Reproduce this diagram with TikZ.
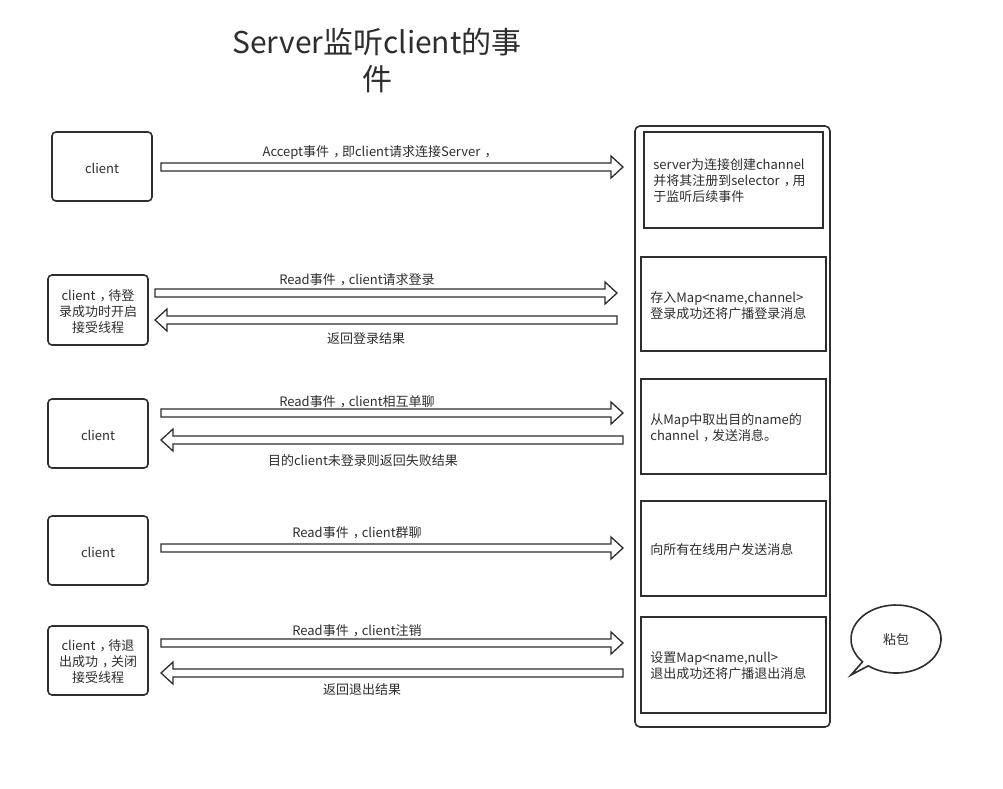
\documentclass[tikz,border=0pt]{standalone}
\usepackage{fontspec}
\setmainfont{Noto Sans CJK SC}
\newcommand\cm{\makebox[1em][l]{\hspace{0.32em}，}}
\usetikzlibrary{calc}
\definecolor{ink}{HTML}{2E2E2E}
\tikzset{
  every node/.style={text=ink},
  txt/.style={font=\fontsize{13}{16}\selectfont, inner sep=0pt},
  clientbox/.style={draw=ink, line width=1.6pt, rounded corners=4pt, minimum width=100pt, minimum height=69pt, inner sep=0pt},
  srvbox/.style={draw=ink, line width=1.6pt, minimum width=185pt, minimum height=95pt, inner sep=0pt},
  blkR/.style={draw=ink, line width=1.3pt, line join=miter, to path={($(\tikztostart)+(0,4)$) -- ($(\tikztotarget)+(-12,4)$) -- ($(\tikztotarget)+(-12,11)$) -- (\tikztotarget) -- ($(\tikztotarget)+(-12,-11)$) -- ($(\tikztotarget)+(-12,-4)$) -- ($(\tikztostart)+(0,-4)$) -- cycle}},
  blkL/.style={draw=ink, line width=1.3pt, line join=miter, to path={($(\tikztostart)+(0,4)$) -- ($(\tikztotarget)+(12,4)$) -- ($(\tikztotarget)+(12,11)$) -- (\tikztotarget) -- ($(\tikztotarget)+(12,-11)$) -- ($(\tikztotarget)+(12,-4)$) -- ($(\tikztostart)+(0,-4)$) -- cycle}}
}
\begin{document}
\begin{tikzpicture}[x=1pt, y=-1pt]
\useasboundingbox (0,0) rectangle (1003,788);
\fill[white] (0,0) rectangle (1003,788);

% title
\node[font=\fontsize{30}{37}\selectfont, align=center, inner sep=0pt] (title) at (377,61) {Server监听client的事\\件};

% clients
\node[clientbox] (c1) at (102,166.5) {};
\node[clientbox, minimum height=70pt] (c2) at (98,310) {};
\node[clientbox] (c3) at (98,433.5) {};
\node[clientbox] (c4) at (98,550.5) {};
\node[clientbox] (c5) at (98,660.5) {};
\node[txt, align=center] (c1t) at ($(c1)+(0,1.5)$) {client};
\node[txt, align=center] (c2t) at ($(c2)+(0,1.5)$) {client\cm 待登\\录成功时开启\\接受线程};
\node[txt, align=center] (c3t) at ($(c3)+(0,1.5)$) {client};
\node[txt, align=center] (c4t) at ($(c4)+(0,1.5)$) {client};
\node[txt, align=center] (c5t) at ($(c5)+(0,1.5)$) {client\cm 待退\\出成功\cm 关闭\\接受线程};

% server panel
\node[draw=ink, line width=1.6pt, rounded corners=5pt, minimum width=195pt, minimum height=601pt, inner sep=0pt] (panel) at (732.5,426.5) {};
\node[srvbox, minimum width=179pt, minimum height=96pt] (s1) at (733.5,180) {};
\node[srvbox, minimum height=94pt] (s2) at (733.5,304) {};
\node[srvbox] (s3) at (733.5,426.5) {};
\node[srvbox] (s4) at (733.5,548.5) {};
\node[srvbox, minimum height=96pt] (s5) at (733.5,665) {};

\node[txt, anchor=west, align=left] (t1) at ($(s1.west)+(10,1)$) {server为连接创建channel\\并将其注册到selector\cm 用\\于监听后续事件};
\node[txt, anchor=west, align=left] (t2) at ($(s2.west)+(10,1.5)$) {存入Map<name,channel>\\登录成功还将广播登录消息};
\node[txt, anchor=west, align=left] (t3) at ($(s3.west)+(10,1.5)$) {从Map中取出目的name的\\channel\cm 发送消息。};
\node[txt, anchor=west, align=left] (t4) at ($(s4.west)+(10,1.5)$) {向所有在线用户发送消息};
\node[txt, anchor=west, align=left] (t5) at ($(s5.west)+(10,1)$) {设置Map<name,null>\\退出成功还将广播退出消息};

% arrow end points
\coordinate (a1s) at (161,167);  \coordinate (a1e) at (623,167);
\coordinate (a2s) at (155,293);  \coordinate (a2e) at (617,293);
\coordinate (b2s) at (617,320);  \coordinate (b2e) at (155,320);
\coordinate (a3s) at (161,413);  \coordinate (a3e) at (623,413);
\coordinate (b3s) at (623,440);  \coordinate (b3e) at (161,440);
\coordinate (a4s) at (161,548);  \coordinate (a4e) at (623,548);
\coordinate (a5s) at (161,643);  \coordinate (a5e) at (623,643);
\coordinate (b5s) at (623,673);  \coordinate (b5e) at (161,673);

\draw[blkR] (a1s) to (a1e);
\draw[blkR] (a2s) to (a2e);
\draw[blkL] (b2s) to (b2e);
\draw[blkR] (a3s) to (a3e);
\draw[blkL] (b3s) to (b3e);
\draw[blkR] (a4s) to (a4e);
\draw[blkR] (a5s) to (a5e);
\draw[blkL] (b5s) to (b5e);

% labels
\node[txt] (l1) at (378,152.5) {Accept事件\cm 即client请求连接Server\cm};
\node[txt] (l2) at (357,279.5) {Read事件\cm client请求登录};
\node[txt] (l3) at (366,338.5) {返回登录结果};
\node[txt] (l4) at (357,401.5) {Read事件\cm client相互单聊};
\node[txt] (l5) at (363,460.5) {目的client未登录则返回失败结果};
\node[txt] (l6) at (357,532.5) {Read事件\cm client群聊};
\node[txt] (l7) at (357,630.5) {Read事件\cm client注销};
\node[txt] (l8) at (362,689.5) {返回退出结果};

% speech bubble
\coordinate (bc) at (896,639);
\draw[draw=ink, line width=1.6pt, line join=miter] ($(bc)+(138:45 and 34)$) arc[start angle=138, end angle=488, x radius=45, y radius=34] -- (851,675) -- cycle;
\node[txt] (bub) at ($(bc)+(0,1)$) {粘包};
\end{tikzpicture}
\end{document}
